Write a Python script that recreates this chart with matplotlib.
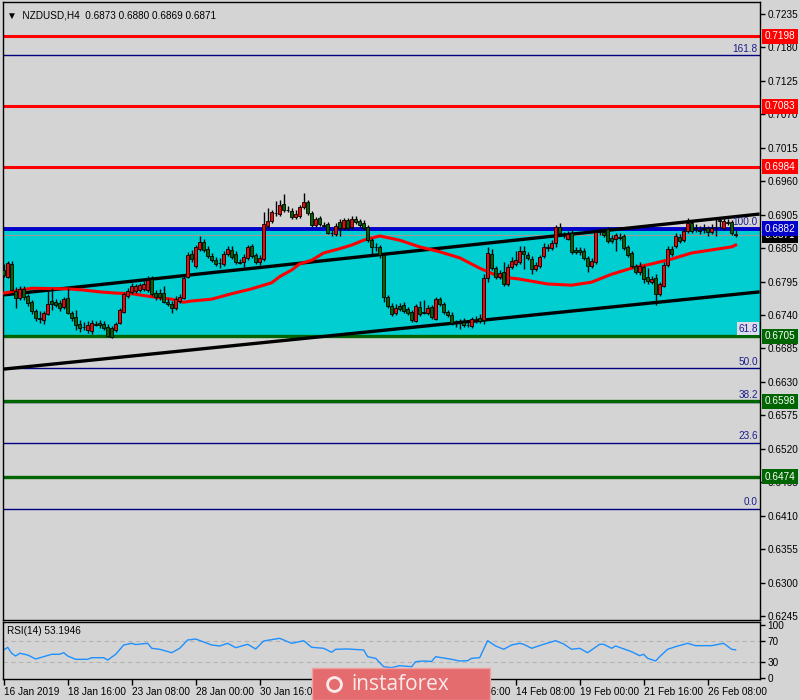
import numpy as np
import matplotlib.pyplot as plt
from matplotlib.patches import Rectangle
from matplotlib.lines import Line2D

plt.rcParams['font.family'] = ['Liberation Sans', 'DejaVu Sans']

# --------- Données (NZDUSD H4) ---------

opens = [0.6814, 0.6803, 0.6824, 0.6779, 0.6768, 0.6783, 0.6771, 0.6761, 0.6747, 0.6735,
         0.6732, 0.6742, 0.6763, 0.6761, 0.6760, 0.6753, 0.6768, 0.6743, 0.6737, 0.6725,
         0.6720, 0.6715, 0.6714, 0.6725, 0.6727, 0.6725, 0.6720, 0.6719, 0.6715, 0.6727,
         0.6745, 0.6771, 0.6778, 0.6779, 0.6781, 0.6783, 0.6781, 0.6799, 0.6776, 0.6776,
         0.6776, 0.6761, 0.6758, 0.6752, 0.6763, 0.6768, 0.6803, 0.6840, 0.6821, 0.6849,
         0.6860, 0.6849, 0.6837, 0.6830, 0.6826, 0.6824, 0.6840, 0.6847, 0.6840, 0.6827,
         0.6827, 0.6834, 0.6854, 0.6839, 0.6827, 0.6832, 0.6886, 0.6895, 0.6908, 0.6906,
         0.6923, 0.6913, 0.6911, 0.6901, 0.6903, 0.6918, 0.6926, 0.6908, 0.6888, 0.6900,
         0.6888, 0.6890, 0.6875, 0.6873, 0.6893, 0.6883, 0.6896, 0.6885, 0.6898, 0.6895,
         0.6891, 0.6885, 0.6863, 0.6852, 0.6852, 0.6839, 0.6770, 0.6755, 0.6743, 0.6755,
         0.6756, 0.6750, 0.6745, 0.6730, 0.6753, 0.6745, 0.6743, 0.6753, 0.6733, 0.6766,
         0.6758, 0.6745, 0.6740, 0.6727, 0.6727, 0.6728, 0.6724, 0.6722, 0.6730, 0.6735,
         0.6732, 0.6801, 0.6840, 0.6817, 0.6803, 0.6811, 0.6791, 0.6819, 0.6824, 0.6827,
         0.6845, 0.6839, 0.6832, 0.6816, 0.6821, 0.6837, 0.6850, 0.6850, 0.6858, 0.6885,
         0.6872, 0.6865, 0.6875, 0.6847, 0.6847, 0.6845, 0.6834, 0.6821, 0.6827, 0.6877,
         0.6877, 0.6881, 0.6867, 0.6865, 0.6868, 0.6870, 0.6852, 0.6842, 0.6821, 0.6811,
         0.6819, 0.6803, 0.6794, 0.6801, 0.6775, 0.6788, 0.6822, 0.6849, 0.6854, 0.6868,
         0.6863, 0.6878, 0.6891, 0.6883, 0.6878, 0.6883, 0.6883, 0.6877, 0.6885, 0.6896,
         0.6883, 0.6893, 0.6893, 0.6873]

highs = [0.6824, 0.6829, 0.6829, 0.6786, 0.6788, 0.6788, 0.6775, 0.6765, 0.6750, 0.6747,
         0.6747, 0.6781, 0.6784, 0.6766, 0.6765, 0.6770, 0.6784, 0.6747, 0.6748, 0.6732,
         0.6728, 0.6730, 0.6732, 0.6730, 0.6732, 0.6730, 0.6725, 0.6722, 0.6728, 0.6752,
         0.6778, 0.6784, 0.6793, 0.6791, 0.6793, 0.6796, 0.6804, 0.6804, 0.6781, 0.6783,
         0.6788, 0.6768, 0.6763, 0.6771, 0.6775, 0.6804, 0.6844, 0.6847, 0.6855, 0.6870,
         0.6865, 0.6854, 0.6842, 0.6835, 0.6834, 0.6845, 0.6854, 0.6854, 0.6845, 0.6832,
         0.6840, 0.6855, 0.6857, 0.6842, 0.6839, 0.6909, 0.6916, 0.6913, 0.6928, 0.6929,
         0.6939, 0.6919, 0.6916, 0.6913, 0.6921, 0.6941, 0.6929, 0.6911, 0.6901, 0.6903,
         0.6893, 0.6893, 0.6880, 0.6891, 0.6898, 0.6900, 0.6900, 0.6903, 0.6903, 0.6898,
         0.6896, 0.6888, 0.6867, 0.6858, 0.6855, 0.6842, 0.6773, 0.6760, 0.6758, 0.6760,
         0.6761, 0.6753, 0.6748, 0.6758, 0.6763, 0.6765, 0.6756, 0.6756, 0.6770, 0.6770,
         0.6761, 0.6748, 0.6745, 0.6732, 0.6733, 0.6735, 0.6730, 0.6737, 0.6738, 0.6742,
         0.6807, 0.6852, 0.6849, 0.6821, 0.6814, 0.6827, 0.6824, 0.6835, 0.6845, 0.6854,
         0.6854, 0.6844, 0.6837, 0.6827, 0.6839, 0.6858, 0.6857, 0.6863, 0.6888, 0.6891,
         0.6877, 0.6878, 0.6880, 0.6852, 0.6852, 0.6850, 0.6837, 0.6834, 0.6881, 0.6883,
         0.6883, 0.6885, 0.6872, 0.6875, 0.6875, 0.6873, 0.6855, 0.6845, 0.6824, 0.6827,
         0.6822, 0.6817, 0.6804, 0.6807, 0.6794, 0.6827, 0.6854, 0.6854, 0.6875, 0.6873,
         0.6883, 0.6900, 0.6896, 0.6890, 0.6886, 0.6890, 0.6886, 0.6890, 0.6898, 0.6901,
         0.6900, 0.6898, 0.6896, 0.6880]

lows = [0.6803, 0.6801, 0.6779, 0.6752, 0.6765, 0.6765, 0.6755, 0.6742, 0.6730, 0.6727,
        0.6725, 0.6740, 0.6748, 0.6753, 0.6747, 0.6750, 0.6742, 0.6730, 0.6715, 0.6712,
        0.6715, 0.6710, 0.6709, 0.6722, 0.6719, 0.6715, 0.6704, 0.6702, 0.6712, 0.6725,
        0.6743, 0.6768, 0.6775, 0.6776, 0.6778, 0.6779, 0.6778, 0.6771, 0.6765, 0.6765,
        0.6760, 0.6755, 0.6743, 0.6748, 0.6760, 0.6766, 0.6801, 0.6827, 0.6817, 0.6845,
        0.6844, 0.6834, 0.6827, 0.6821, 0.6817, 0.6821, 0.6837, 0.6832, 0.6824, 0.6824,
        0.6819, 0.6830, 0.6834, 0.6824, 0.6822, 0.6829, 0.6883, 0.6891, 0.6903, 0.6903,
        0.6909, 0.6909, 0.6898, 0.6898, 0.6900, 0.6914, 0.6904, 0.6885, 0.6885, 0.6886,
        0.6885, 0.6873, 0.6870, 0.6870, 0.6870, 0.6880, 0.6880, 0.6881, 0.6890, 0.6885,
        0.6880, 0.6860, 0.6840, 0.6845, 0.6834, 0.6761, 0.6752, 0.6738, 0.6740, 0.6747,
        0.6743, 0.6740, 0.6728, 0.6728, 0.6738, 0.6742, 0.6740, 0.6733, 0.6732, 0.6755,
        0.6742, 0.6737, 0.6724, 0.6720, 0.6717, 0.6720, 0.6720, 0.6719, 0.6727, 0.6727,
        0.6725, 0.6794, 0.6814, 0.6799, 0.6799, 0.6788, 0.6788, 0.6816, 0.6821, 0.6824,
        0.6816, 0.6830, 0.6807, 0.6812, 0.6817, 0.6834, 0.6845, 0.6847, 0.6852, 0.6872,
        0.6867, 0.6863, 0.6840, 0.6840, 0.6839, 0.6830, 0.6811, 0.6817, 0.6824, 0.6872,
        0.6868, 0.6858, 0.6858, 0.6845, 0.6863, 0.6847, 0.6835, 0.6817, 0.6807, 0.6806,
        0.6793, 0.6791, 0.6791, 0.6756, 0.6771, 0.6786, 0.6819, 0.6837, 0.6850, 0.6858,
        0.6860, 0.6875, 0.6875, 0.6877, 0.6873, 0.6875, 0.6870, 0.6873, 0.6870, 0.6883,
        0.6880, 0.6888, 0.6872, 0.6869]

closes = [0.6806, 0.6826, 0.6781, 0.6768, 0.6783, 0.6770, 0.6760, 0.6747, 0.6735, 0.6733,
          0.6743, 0.6758, 0.6758, 0.6756, 0.6752, 0.6766, 0.6743, 0.6735, 0.6724, 0.6719,
          0.6721, 0.6724, 0.6727, 0.6724, 0.6724, 0.6719, 0.6705, 0.6704, 0.6725, 0.6748,
          0.6775, 0.6779, 0.6788, 0.6788, 0.6789, 0.6791, 0.6798, 0.6775, 0.6770, 0.6770,
          0.6761, 0.6758, 0.6752, 0.6766, 0.6770, 0.6801, 0.6839, 0.6832, 0.6852, 0.6860,
          0.6847, 0.6837, 0.6830, 0.6824, 0.6825, 0.6840, 0.6849, 0.6835, 0.6827, 0.6826,
          0.6835, 0.6852, 0.6837, 0.6827, 0.6834, 0.6890, 0.6895, 0.6909, 0.6907, 0.6921,
          0.6913, 0.6912, 0.6901, 0.6906, 0.6918, 0.6926, 0.6908, 0.6888, 0.6898, 0.6890,
          0.6887, 0.6875, 0.6874, 0.6886, 0.6883, 0.6896, 0.6883, 0.6898, 0.6893, 0.6888,
          0.6883, 0.6863, 0.6852, 0.6851, 0.6839, 0.6770, 0.6755, 0.6742, 0.6752, 0.6750,
          0.6747, 0.6743, 0.6732, 0.6755, 0.6742, 0.6744, 0.6752, 0.6737, 0.6766, 0.6758,
          0.6745, 0.6740, 0.6727, 0.6726, 0.6728, 0.6724, 0.6723, 0.6733, 0.6731, 0.6730,
          0.6801, 0.6842, 0.6817, 0.6803, 0.6809, 0.6791, 0.6819, 0.6829, 0.6830, 0.6845,
          0.6840, 0.6834, 0.6816, 0.6822, 0.6835, 0.6852, 0.6851, 0.6858, 0.6885, 0.6875,
          0.6871, 0.6873, 0.6844, 0.6844, 0.6844, 0.6834, 0.6821, 0.6829, 0.6877, 0.6876,
          0.6872, 0.6862, 0.6862, 0.6872, 0.6867, 0.6850, 0.6839, 0.6821, 0.6811, 0.6821,
          0.6799, 0.6796, 0.6799, 0.6775, 0.6791, 0.6822, 0.6849, 0.6840, 0.6870, 0.6862,
          0.6878, 0.6891, 0.6878, 0.6882, 0.6879, 0.6882, 0.6877, 0.6883, 0.6884, 0.6895,
          0.6895, 0.6892, 0.6875, 0.6871]

# moyenne mobile (ligne rouge), relevée par points
ma_bars = [0, 7, 16, 20, 24, 28, 32, 37, 42, 45, 47, 52, 57, 62, 67, 69, 72, 74, 77, 80,
           84, 87, 90, 94, 99, 104, 109, 114, 119, 124, 129, 136, 142, 147, 152, 157, 162,
           167, 172, 177, 182, 183]
ma_vals = [0.6776, 0.6784, 0.6783, 0.6781, 0.6778, 0.6776, 0.6775, 0.6770, 0.6766, 0.6761,
           0.6763, 0.6766, 0.6775, 0.6783, 0.6793, 0.6803, 0.6814, 0.6824, 0.6830, 0.6842,
           0.6849, 0.6855, 0.6863, 0.6870, 0.6863, 0.6852, 0.6844, 0.6834, 0.6817, 0.6803,
           0.6799, 0.6791, 0.6789, 0.6794, 0.6807, 0.6817, 0.6824, 0.6832, 0.6842, 0.6847,
           0.6852, 0.6855]

# RSI(14)
rsi_bars = [0, 1, 2, 3, 4, 6, 8, 12, 14, 15, 16, 18, 21, 22, 25, 26, 28, 30, 32, 33, 36,
            37, 39, 42, 44, 46, 48, 52, 54, 56, 58, 61, 63, 65, 69, 72, 75, 77, 80, 82, 83,
            86, 90, 91, 93, 95, 97, 99, 102, 103, 105, 107, 108, 112, 114, 116, 117, 119,
            121, 123, 125, 127, 129, 130, 132, 135, 138, 140, 142, 144, 146, 149, 150, 152,
            153, 157, 159, 160, 161, 163, 164, 166, 168, 171, 173, 177, 180, 182, 183]
rsi_vals = [52.9, 58.0, 46.6, 41.4, 46.6, 43.3, 35.7, 44.7, 44.7, 47.7, 41.4, 35.1, 35.1,
            38.2, 38.2, 33.8, 44.7, 62.4, 65.6, 63.3, 65.6, 56.1, 54.2, 47.7, 56.1, 71.9,
            73.8, 62.4, 60.5, 65.6, 57.3, 63.7, 54.8, 70.0, 75.1, 65.6, 70.5, 58.0, 56.1,
            48.5, 54.2, 54.8, 52.9, 40.1, 37.0, 21.0, 19.2, 23.0, 21.0, 30.6, 31.9, 31.0,
            40.1, 35.1, 31.9, 32.5, 37.0, 38.2, 70.6, 60.5, 54.2, 62.4, 65.6, 63.7, 56.1,
            63.7, 70.6, 64.3, 54.2, 56.1, 47.7, 63.7, 63.7, 56.1, 60.5, 49.6, 42.0, 44.7,
            37.0, 31.9, 40.1, 54.2, 59.2, 65.6, 61.1, 61.1, 65.6, 54.2, 53.2]

# lignes de canal (début / fin)
trend_bars = [0, 189]
trend_upper = [0.6773, 0.6906]
trend_lower = [0.6651, 0.6778]

red_levels = [0.7198, 0.7083, 0.6984]
green_levels = [0.6705, 0.6598, 0.6474]
blue_level = 0.6882
bid_price = 0.6871
zone = (0.6705, 0.6882)

fib_names = ['161.8', '100.0', '61.8', '50.0', '38.2', '23.6', '0.0']
fib_prices = [0.7167, 0.6882, 0.6706, 0.6652, 0.6597, 0.6530, 0.6421]

price_ticks = [0.7235, 0.7180, 0.7125, 0.7070, 0.7015, 0.6960, 0.6905, 0.6850, 0.6795,
               0.6740, 0.6685, 0.6630, 0.6575, 0.6520, 0.6465, 0.6410, 0.6355, 0.6300, 0.6245]
date_ticks = [0, 16, 32, 48, 64, 80, 96, 112, 128, 144, 160, 176]
date_labels = ['16 Jan 2019', '18 Jan 16:00', '23 Jan 08:00', '28 Jan 00:00', '30 Jan 16:00',
               '4 Feb 08:00', '7 Feb 00:00', '11 Feb 16:00', '14 Feb 08:00', '19 Feb 00:00',
               '21 Feb 16:00', '26 Feb 08:00']

# --------- Figure ---------

bg = '#d4d4d4'
fs = 7.2
fig = plt.figure(figsize=(8, 7), dpi=100, facecolor=bg)
ax = fig.add_axes([2.5/800, 1-620/700, 757.5/800, 618/700])
rax = fig.add_axes([2.5/800, 1-679/700, 757.5/800, 57/700])

for a in (ax, rax):
    a.set_facecolor(bg)
    a.set_xlim(-0.3, 189.1)
    for s in a.spines.values():
        s.set_color('black')
        s.set_linewidth(1)
    a.yaxis.tick_right()
    a.tick_params(axis='y', direction='out', length=3.5, width=1, pad=2, labelsize=fs)

ax.set_ylim(0.62384, 0.72547)
ax.set_yticks(price_ticks)
ax.set_yticklabels([f"{p:.4f}" for p in price_ticks])
ax.tick_params(axis='x', bottom=False, labelbottom=False)

# zone cyan
ax.axhspan(zone[0], zone[1], color='#00ced1', zorder=0.5, lw=0)

# niveaux de Fibonacci
for name, p in zip(fib_names, fib_prices):
    ax.axhline(p, color='#000080', lw=1.0, zorder=1)
    box = dict(facecolor='#dcdcea', edgecolor='none', pad=1) if name == '61.8' else None
    ax.text(0.997, p + 0.0003, name, transform=ax.get_yaxis_transform(), ha='right',
            va='bottom', fontsize=fs, color='#1c1c8c', zorder=6, bbox=box)

for p in red_levels:
    ax.axhline(p, color='#ff0000', lw=2.2, zorder=2)
for p in green_levels:
    ax.axhline(p, color='#006400', lw=2.4, zorder=2)
ax.axhline(blue_level, color='#0000c8', lw=2.8, zorder=2)
ax.axhline(bid_price, color='#9a9a9a', lw=0.8, zorder=2)

# canal
ax.plot(trend_bars, trend_upper, color='black', lw=2.4, zorder=2.8, solid_capstyle='butt')
ax.plot(trend_bars, trend_lower, color='black', lw=2.4, zorder=2.8, solid_capstyle='butt')

# moyenne mobile
ax.plot(ma_bars, ma_vals, color='#ff0000', lw=2.2, zorder=2.9)

# bougies
x = np.arange(len(closes))
o = np.array(opens)
c = np.array(closes)
ax.vlines(x, lows, highs, color='black', lw=1, zorder=3)
up = c > o
dn = c < o
eq = c == o
ax.bar(x[up], (c - o)[up], bottom=o[up], width=0.7, color='#ff0000',
       edgecolor='black', linewidth=0.6, zorder=3.2)
ax.bar(x[dn], (c - o)[dn], bottom=o[dn], width=0.7, color='#006400',
       edgecolor='black', linewidth=0.6, zorder=3.2)
ax.hlines(o[eq], x[eq] - 0.4, x[eq] + 0.4, color='black', lw=1, zorder=3.2)

# étiquettes de prix à droite
def price_box(p, fc, tc='white'):
    ax.text(1.0066, p, f"{p:.4f}", transform=ax.get_yaxis_transform(), ha='left',
            va='center', fontsize=fs, color=tc, clip_on=False, zorder=7,
            bbox=dict(boxstyle='square,pad=0.25', facecolor=fc, edgecolor='none'))

for p in red_levels:
    price_box(p, '#ff0000')
for p in green_levels:
    price_box(p, '#006400')
price_box(bid_price, 'black')
price_box(blue_level, '#0000c8')

ax.text(0.006, 0.987, '\u25bc  NZDUSD,H4  0.6873 0.6880 0.6869 0.6871',
        transform=ax.transAxes, ha='left', va='top', fontsize=fs, color='black')

# --------- RSI ---------
rax.set_ylim(-2.4, 106.2)
rax.set_yticks([0, 30, 70, 100])
rax.set_yticklabels(['0', '30', '70', '100'])
for lvl in (30, 70):
    rax.axhline(lvl, color='#b4b4b4', lw=0.8, ls=(0, (4, 3)), zorder=1)
rax.plot(rsi_bars, rsi_vals, color='#1e90ff', lw=1, zorder=2)
rax.text(0.006, 0.84, 'RSI(14) 53.1946', transform=rax.transAxes, ha='left',
         va='center', fontsize=fs, color='black')

rax.set_xticks(date_ticks)
rax.set_xticklabels(date_labels, ha='left')
rax.tick_params(axis='x', direction='out', length=4, width=1, pad=2, labelsize=fs)

# --------- filigrane instaforex ---------
fig.add_artist(Rectangle((312/800, 0), 178/800, 32/700, transform=fig.transFigure,
                         facecolor='#e46c6f', edgecolor='#f0a0a0', lw=1, zorder=5))
fig.add_artist(Line2D([334/800], [1-684/700], marker='o', markersize=10, mfc='none',
                      mec='#fbeaea', mew=2, transform=fig.transFigure, zorder=6))
fig.text(400/800, 1-685/700, 'instaforex', ha='center', va='center', fontsize=15,
         color='#fbeaea', zorder=6, family=['Open Sans', 'DejaVu Sans'])

fig.savefig('out.png', dpi=100, facecolor=bg)
